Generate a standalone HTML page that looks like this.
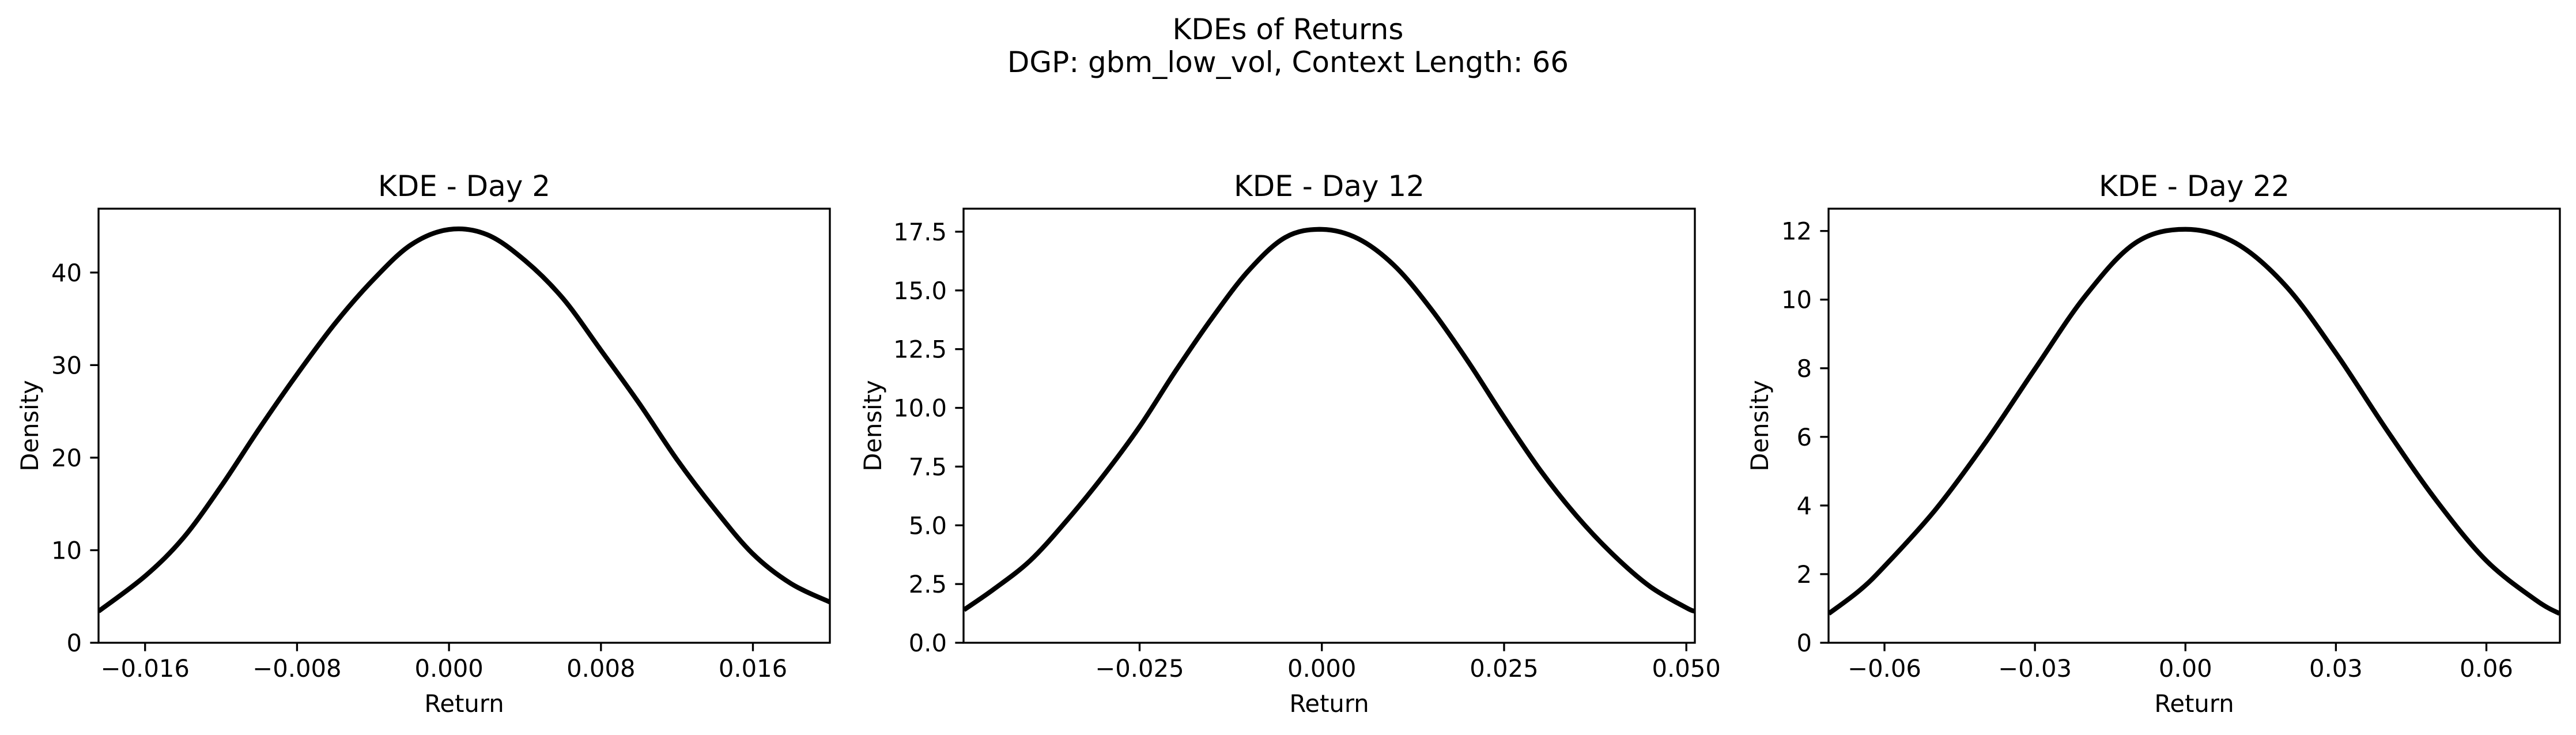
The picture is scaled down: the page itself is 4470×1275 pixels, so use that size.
<!DOCTYPE html>
<html><head><meta charset="utf-8"><style>
html,body{margin:0;padding:0;background:#fff;}
svg{display:block;font-family:"DejaVu Sans","Liberation Sans",sans-serif;}
</style></head><body>
<svg id="fig" width="4470" height="1275" viewBox="0 0 4470 1275" xmlns="http://www.w3.org/2000/svg">
<text x="2235" y="68" font-size="50" text-anchor="middle">KDEs of Returns</text>
<text x="2235" y="125" font-size="50" text-anchor="middle">DGP: gbm_low_vol, Context Length: 66</text>
</svg>
<script>
const day2Returns = [-0.01845,-0.016,-0.014,-0.012,-0.010,-0.008,-0.006,-0.004,-0.002,0,0.002,0.004,0.006,0.008,0.010,0.012,0.014,0.016,0.018,0.02005];
const day2Density = [3.4,7.2,11.3,16.9,23.1,29.0,34.5,39.2,43.0,44.65,44.1,41.3,37.2,31.6,25.9,19.8,14.4,9.6,6.4,4.4];
const day2XTicks = [-0.016,-0.008,0,0.008,0.016];
const day2XLabels = ["\u22120.016","\u22120.008","0.000","0.008","0.016"];
const day2YTicks = [0,10,20,30,40];
const day2YLabels = ["0","10","20","30","40"];

const day12Returns = [-0.0491,-0.045,-0.04,-0.035,-0.03,-0.025,-0.02,-0.015,-0.01,-0.005,0,0.005,0.01,0.015,0.02,0.025,0.03,0.035,0.04,0.045,0.05,0.0512];
const day12Density = [1.4,2.28,3.5,5.2,7.1,9.2,11.6,13.85,15.86,17.26,17.6,17.2,16.04,14.2,12.0,9.6,7.33,5.38,3.74,2.4,1.49,1.34];
const day12XTicks = [-0.025,0,0.025,0.05];
const day12XLabels = ["\u22120.025","0.000","0.025","0.050"];
const day12YTicks = [0,2.5,5,7.5,10,12.5,15,17.5];
const day12YLabels = ["0.0","2.5","5.0","7.5","10.0","12.5","15.0","17.5"];

const day22Returns = [-0.0711,-0.065,-0.06,-0.05,-0.04,-0.03,-0.02,-0.01,0,0.01,0.02,0.03,0.04,0.05,0.06,0.07,0.0746];
const day22Density = [0.85,1.52,2.23,3.85,5.81,7.98,10.1,11.65,12.05,11.65,10.4,8.44,6.23,4.15,2.39,1.23,0.85];
const day22XTicks = [-0.06,-0.03,0,0.03,0.06];
const day22XLabels = ["\u22120.06","\u22120.03","0.00","0.03","0.06"];
const day22YTicks = [0,2,4,6,8,10,12];
const day22YLabels = ["0","2","4","6","8","10","12"];

const NS = "http://www.w3.org/2000/svg";
const svg = document.getElementById('fig');
function mk(tag, attrs, parent){ const e=document.createElementNS(NS,tag); for(const k in attrs) e.setAttribute(k,attrs[k]); (parent||svg).appendChild(e); return e; }

function panel(id, title, left, xmin, xmax, ymax, xs, ys, xt, xl, yt, yl, ylabX){
  const top=362, bottom=1115, width=1269;
  const sx = v => left + (v - xmin) / (xmax - xmin) * width;
  const sy = v => bottom - v / ymax * (bottom - top);
  const g = mk('g', {});
  
  
  const pts = xs.map((x,i)=>[sx(x), sy(ys[i])]);
  let d = 'M' + pts[0][0] + ',' + pts[0][1];
  for (let i=0;i<pts.length-1;i++){
    const p0=pts[Math.max(0,i-1)], p1=pts[i], p2=pts[i+1], p3=pts[Math.min(pts.length-1,i+2)];
    const c1=[p1[0]+(p2[0]-p0[0])/6, p1[1]+(p2[1]-p0[1])/6];
    const c2=[p2[0]-(p3[0]-p1[0])/6, p2[1]-(p3[1]-p1[1])/6];
    d += ' C'+c1[0]+','+c1[1]+' '+c2[0]+','+c2[1]+' '+p2[0]+','+p2[1];
  }
  const clip = mk('clipPath', {id: id+'-clip'}, g);
  mk('rect', {x:left, y:top, width:width, height:bottom-top}, clip);
  const line = mk('path', {d:d, fill:'none', stroke:'#000', 'stroke-width':8.3, 'clip-path':'url(#'+id+'-clip)', 'stroke-linejoin':'round'}, g);
  
  
  const frame = mk('rect', {x:left, y:top, width:width, height:bottom-top, fill:'none', stroke:'#000', 'stroke-width':3.33}, g);
  
  
  xt.forEach((v,i)=>{
    const x = sx(v);
    mk('line', {x1:x, x2:x, y1:bottom, y2:bottom+14.6, stroke:'#000', 'stroke-width':3.33}, g);
    const t = mk('text', {x:x, y:1174, 'font-size':41.7, 'text-anchor':'middle'}, g);
    t.textContent = xl[i];
    
    
  });
  yt.forEach((v,i)=>{
    const y = sy(v);
    mk('line', {x1:left-14.6, x2:left, y1:y, y2:y, stroke:'#000', 'stroke-width':3.33}, g);
    const t = mk('text', {x:left-29, y:y+15, 'font-size':41.7, 'text-anchor':'end'}, g);
    t.textContent = yl[i];
    
    
  });
  const tt = mk('text', {x:left+width/2, y:340, 'font-size':50, 'text-anchor':'middle'}, g);
  tt.textContent = title;
  
  
  const xlab = mk('text', {x:left+width/2, y:1235, 'font-size':41.7, 'text-anchor':'middle'}, g);
  xlab.textContent = 'Return';
  
  
  const cy = (top+bottom)/2;
  const ylab = mk('text', {x:ylabX+15, y:cy, 'font-size':41.7, 'text-anchor':'middle', transform:'rotate(-90 '+(ylabX+15)+' '+cy+')'}, g);
  ylab.textContent = 'Density';
  
  
}
panel('day2', 'KDE - Day 2', 171, -0.01845, 0.02005, 46.9, day2Returns, day2Density, day2XTicks, day2XLabels, day2YTicks, day2YLabels, 51);
panel('day12', 'KDE - Day 12', 1672, -0.04915, 0.05117, 18.48, day12Returns, day12Density, day12XTicks, day12XLabels, day12YTicks, day12YLabels, 1514);
panel('day22', 'KDE - Day 22', 3173, -0.07115, 0.07465, 12.65, day22Returns, day22Density, day22XTicks, day22XLabels, day22YTicks, day22YLabels, 3053);
</script>
</body></html>
